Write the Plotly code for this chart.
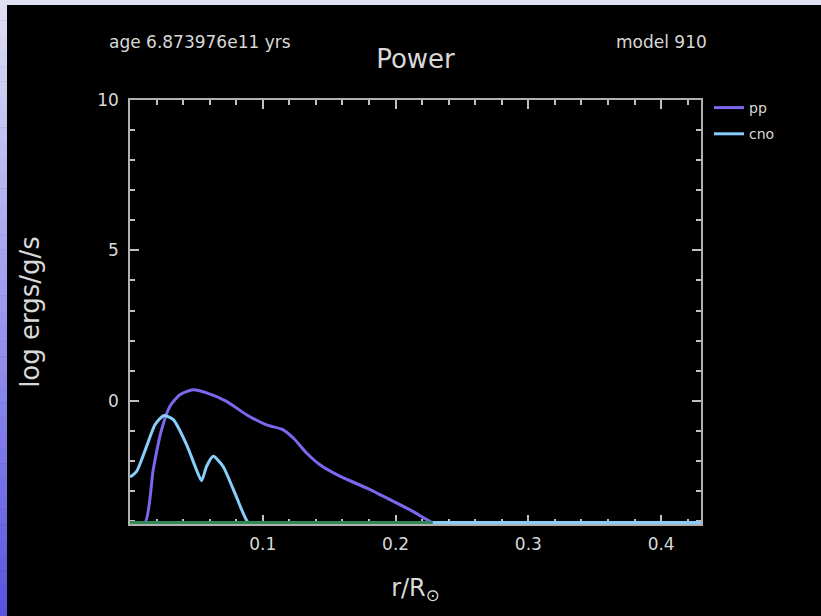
import plotly.graph_objects as go

# ---- data ----
floor = -4.05
pp_r = [0.0, 0.0113, 0.0175, 0.0238, 0.030, 0.0376, 0.0476, 0.0577, 0.0727, 0.0877,
        0.1028, 0.115, 0.123, 0.133, 0.143, 0.158, 0.178, 0.198, 0.213, 0.228, 0.235, 0.43]
pp_v = [floor, floor, -2.29, -0.96, -0.19, 0.20, 0.365, 0.26, -0.02, -0.465,
        -0.80, -0.96, -1.24, -1.74, -2.13, -2.51, -2.90, -3.34, -3.68, floor, floor, floor]
cno_r = [0.0, 0.005, 0.0125, 0.0188, 0.0256, 0.0326, 0.0426, 0.050, 0.0539, 0.0577,
         0.0627, 0.070, 0.080, 0.089, 0.095, 0.43]
cno_v = [-2.54, -2.35, -1.52, -0.80, -0.49, -0.63, -1.46, -2.29, -2.66, -2.18,
         -1.85, -2.18, -3.18, floor, floor, floor]
tra_r = [0.0, 0.228]
tra_v = [floor, floor]

x_ticks = [0.1, 0.2, 0.3, 0.4]
x_ticklabels = ["0.1", "0.2", "0.3", "0.4"]
y_ticks = [0, 5, 10]
y_ticklabels = ["0", "5", "10"]
y_min, y_max = -4.1, 10

FONT = "DejaVu Sans"
TXT = "#d8d8d8"
W, H = 821, 616
ML, MR, MT, MB = 130, 120, 100, 92
PW, PH = W - ML - MR, H - MT - MB

fig = go.Figure()
fig.add_trace(go.Scatter(x=pp_r, y=pp_v, mode="lines", name="pp",
                         line=dict(color="#7b68ee", width=3, shape="spline", smoothing=0.6),
                         legendgroup="a"))
fig.add_trace(go.Scatter(x=cno_r, y=cno_v, mode="lines", name="cno",
                         line=dict(color="#87cefa", width=3, shape="spline", smoothing=0.6),
                         legendgroup="b"))
fig.add_trace(go.Scatter(x=tra_r, y=tra_v, mode="lines", name="3a", showlegend=False,
                         line=dict(color="#2e8b57", width=3)))

def px2x(p):
    return (p - ML) / PW

def py2y(p):
    return (H - MB - p) / PH

shapes = []
# top light strip
shapes.append(dict(type="rect", xref="paper", yref="paper", x0=px2x(0), x1=px2x(W),
                   y0=py2y(5), y1=py2y(0), fillcolor="#e0e0f4", line=dict(width=0), layer="above"))
# left gradient strip
stops = [(0, (224, 224, 244)), (300, (157, 155, 240)), (616, (90, 82, 224))]
n = 40
for i in range(n):
    y0p = 5 + (H - 5) * i / n
    y1p = 5 + (H - 5) * (i + 1) / n
    ym = (y0p + y1p) / 2
    for (a, ca), (b, cb) in zip(stops[:-1], stops[1:]):
        if a <= ym <= b:
            t = (ym - a) / (b - a)
            c = tuple(int(ca[k] + (cb[k] - ca[k]) * t) for k in range(3))
    shapes.append(dict(type="rect", xref="paper", yref="paper", x0=px2x(0), x1=px2x(7),
                       y0=py2y(y1p + 0.5), y1=py2y(y0p), fillcolor="rgb(%d,%d,%d)" % c,
                       line=dict(width=0), layer="above"))

axis_common = dict(showgrid=False, zeroline=False, showline=True, linecolor="#b0b0b0",
                   linewidth=1.5, mirror="ticks", ticks="inside", tickcolor="#c0c0c0",
                   tickwidth=1.5, ticklen=9, layer="below traces",
                   tickfont=dict(family=FONT, size=17, color=TXT))

fig.update_layout(
    width=W, height=H,
    margin=dict(l=ML, r=MR, t=MT, b=MB),
    paper_bgcolor="black", plot_bgcolor="black",
    shapes=shapes,
    title=dict(text="Power", xref="paper", x=0.5, xanchor="center", y=1 - 59 / H, yanchor="middle",
               font=dict(family=FONT, size=26, color=TXT)),
    xaxis=dict(range=[0, 0.43], tickvals=x_ticks, ticktext=x_ticklabels, ticklabelstandoff=4,
               minor=dict(dtick=0.02, tick0=0, ticks="inside", ticklen=5, tickcolor="#c0c0c0", tickwidth=1.5),
               title=dict(text="r/R<sub>⊙</sub>", standoff=26,
                          font=dict(family=FONT, size=24, color=TXT)),
               **axis_common),
    yaxis=dict(range=[y_min, y_max], tickvals=y_ticks, ticktext=y_ticklabels, ticklabelstandoff=6,
               minor=dict(dtick=1, tick0=0, ticks="inside", ticklen=5, tickcolor="#c0c0c0", tickwidth=1.5),
               title=dict(text="log ergs/g/s", standoff=50,
                          font=dict(family=FONT, size=26, color=TXT)),
               **axis_common),
    legend=dict(x=px2x(709), xanchor="left", y=py2y(92), yanchor="top",
                bgcolor="rgba(0,0,0,0)", font=dict(family=FONT, size=14, color=TXT),
                itemwidth=30, tracegroupgap=5),
    annotations=[
        dict(text="age 6.873976e11 yrs", xref="paper", yref="paper", x=px2x(107), y=py2y(42),
             xanchor="left", yanchor="middle", showarrow=False,
             font=dict(family=FONT, size=17, color=TXT)),
        dict(text="model 910", xref="paper", yref="paper", x=px2x(709), y=py2y(42),
             xanchor="right", yanchor="middle", showarrow=False,
             font=dict(family=FONT, size=17, color=TXT)),
    ],
)

fig.write_html("out.html", config={"displayModeBar": False},
               post_script="document.body.style.margin='0';document.body.style.overflow='hidden';")
